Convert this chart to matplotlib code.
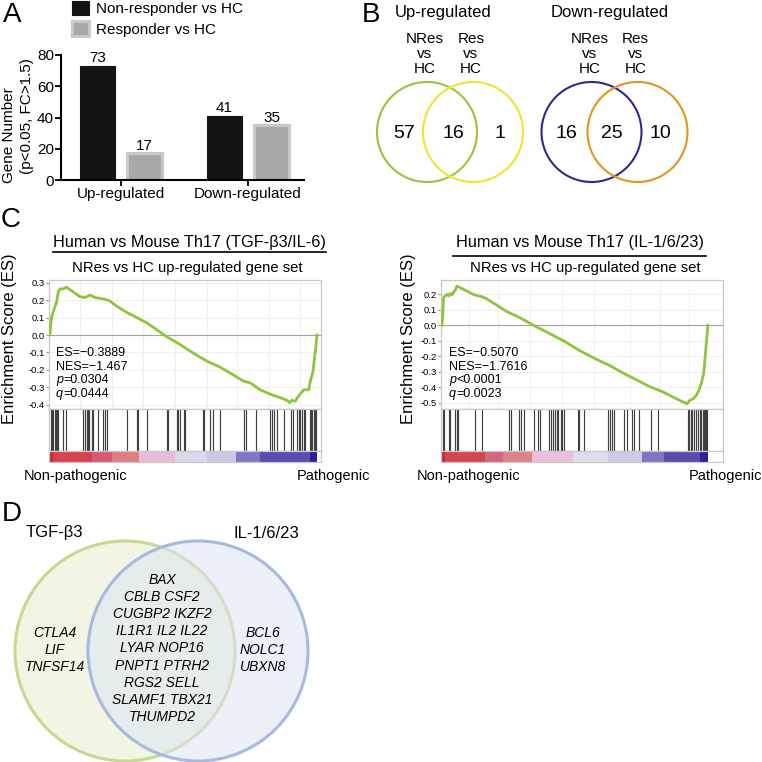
import matplotlib
matplotlib.use('Agg')
import matplotlib.pyplot as plt
from matplotlib.patches import Circle
import numpy as np

plt.rcParams['font.family'] = ['Liberation Sans', 'DejaVu Sans']

# ---------------- data ----------------
# Panel A
groups = ['Up-regulated', 'Down-regulated']
series_labels = ['Non-responder vs HC', 'Responder vs HC']
nonresp_counts = [73, 41]
resp_counts = [17, 35]
a_yticks = [0, 20, 40, 60, 80]

# Panel B (Venn counts: only NRes, both, only Res)
venn_up_counts = [57, 16, 1]
venn_down_counts = [16, 25, 10]
venn_titles = ['Up-regulated', 'Down-regulated']
venn_set_labels = ['NRes\nvs\nHC', 'Res\nvs\nHC']

# Panel C left: TGF-b3/IL-6
c1_rank = [0.0, 0.25, 0.6, 1.25, 1.9, 2.5, 3.1, 3.75, 5.0, 6.25, 7.5, 9.4, 11.25, 13.1, 15.0, 16.9,
           18.75, 20.6, 22.5, 25.0, 28.75, 32.5, 36.25, 40.0, 43.75, 48.75, 53.75, 58.75, 63.75,
           68.75, 72.5, 75.0, 78.75, 82.5, 86.25, 88.75, 89.75, 90.6, 91.9, 93.1, 95.0, 96.9,
           97.5, 98.5, 99.0, 99.6, 100.0]
c1_es = [0.0, 0.06, 0.10, 0.135, 0.165, 0.19, 0.25, 0.265, 0.265, 0.275, 0.26, 0.24, 0.22, 0.215,
         0.23, 0.215, 0.21, 0.205, 0.195, 0.165, 0.13, 0.10, 0.07, 0.03, -0.01, -0.055, -0.105,
         -0.15, -0.185, -0.23, -0.265, -0.275, -0.315, -0.34, -0.36, -0.375, -0.389, -0.375,
         -0.38, -0.35, -0.315, -0.315, -0.265, -0.21, -0.14, -0.065, 0.0]
c1_hits = [0.25, 0.75, 1.25, 1.75, 2.25, 2.75, 3.1, 5.0, 6.0, 12.5, 13.1, 13.75, 14.4, 14.75, 15.6,
           16.25, 17.9, 20.0, 20.6, 21.25, 28.75, 32.5, 33.1, 36.25, 43.75, 44.1, 47.5, 47.9,
           48.75, 50.0, 50.6, 57.25, 57.75, 60.0, 61.0, 63.75, 72.75, 73.4, 77.1, 82.25, 83.1,
           83.75, 85.0, 87.5, 90.25, 90.9, 92.5, 93.1, 93.75, 94.4, 95.0, 95.4, 97.25, 97.75,
           98.25, 98.75, 99.25, 99.75]
c1_bar_edges = [0, 1.0, 15.6, 23.1, 33.5, 46.9, 58.75, 69.75, 78.75, 97.25, 100]
c1_bar_colors = ['#cc2535', '#d6434c', '#d65b70', '#de7d82', '#ebbadb', '#dcd9ef', '#cdc7e6',
                 '#7e76c6', '#5a4db0', '#2c1f9c']
c1_yticks = [0.3, 0.2, 0.1, 0.0, -0.1, -0.2, -0.3, -0.4]
c1_grid = [11.25, 23.1, 35.0, 46.9, 58.75, 70.0, 81.9, 93.75]
c1_stats = [('', 'ES=\u22120.3889'), ('', 'NES=\u22121.467'), ('p', '=0.0304'), ('q', '=0.0444')]
c1_title = 'Human vs Mouse Th17 (TGF-\u03b23/IL-6)'

# Panel C right: IL-1/6/23
c2_rank = [0.0, 0.25, 0.6, 1.25, 1.9, 2.5, 3.1, 3.75, 4.4, 5.0, 5.6, 6.9, 9.4, 11.9, 14.4, 16.25,
           19.4, 24.4, 29.4, 34.4, 39.4, 45.6, 51.9, 58.1, 63.1, 68.1, 73.1, 78.1, 83.1, 88.1,
           92.1, 93.1, 94.4, 95.6, 96.6, 97.5, 98.4, 98.9, 99.4, 99.75, 100.0]
c2_es = [0.0, 0.055, 0.18, 0.19, 0.20, 0.19, 0.205, 0.195, 0.215, 0.227, 0.253, 0.242, 0.22,
         0.198, 0.187, 0.176, 0.143, 0.088, 0.048, 0.0, -0.044, -0.099, -0.165, -0.22, -0.26,
         -0.308, -0.352, -0.396, -0.43, -0.474, -0.507, -0.485, -0.474, -0.452, -0.418, -0.374,
         -0.308, -0.209, -0.11, -0.044, 0.0]
c2_hits = [0.25, 0.6, 2.5, 3.1, 5.0, 5.6, 6.0, 12.5, 15.0, 25.0, 26.0, 29.0, 29.75, 31.0, 34.75,
           36.25, 36.9, 40.25, 41.0, 41.9, 42.5, 43.1, 43.75, 44.75, 45.25, 46.0, 51.0, 51.5,
           53.5, 62.5, 63.1, 63.75, 64.75, 68.5, 69.4, 71.25, 72.25, 74.0, 78.75, 81.25, 92.5,
           93.0, 93.5, 94.0, 94.75, 95.6, 96.25, 96.9, 97.5, 98.0, 98.5, 99.0, 99.4, 99.75]
c2_bar_edges = [0, 1.25, 16.0, 23.1, 34.0, 49.4, 62.5, 75.25, 83.5, 96.9, 100]
c2_bar_colors = ['#cf2232', '#d5474f', '#d66580', '#df8088', '#ecbfe0', '#e0dcf0', '#d0c9e8',
                 '#7d74c4', '#5a4caf', '#30209a']
c2_yticks = [0.2, 0.1, 0.0, -0.1, -0.2, -0.3, -0.4, -0.5]
c2_grid = [10.0, 21.0, 33.0, 45.0, 57.0, 70.6, 81.9, 93.0]
c2_stats = [('', 'ES=\u22120.5070'), ('', 'NES=\u22121.7616'), ('p', '<0.0001'), ('q', '=0.0023')]
c2_title = 'Human vs Mouse Th17 (IL-1/6/23)'
c_subtitle = 'NRes vs HC up-regulated gene set'

# Panel D
d_set_labels = ['TGF-\u03b23', 'IL-1/6/23']
d_only_tgf = ['CTLA4', 'LIF', 'TNFSF14']
d_both = ['BAX', 'CBLB CSF2', 'CUGBP2 IKZF2', 'IL1R1 IL2 IL22', 'LYAR NOP16', 'PNPT1 PTRH2',
          'RGS2 SELL', 'SLAMF1 TBX21', 'THUMPD2']
d_only_il = ['BCL6', 'NOLC1', 'UBXN8']

# ---------------- figure ----------------
W = H = 762
fig = plt.figure(figsize=(7.62, 7.62), dpi=100)
renderer = fig.canvas.get_renderer()


def px_axes(l, t, w, h):
    return fig.add_axes([l / W, 1 - (t + h) / H, w / W, h / H])


def ftext(x, y, s, **kw):
    kw.setdefault('ha', 'center')
    kw.setdefault('va', 'center')
    return fig.text(x / W, 1 - y / H, s, **kw)


# panel letters
for lab, (x, y) in zip('ABCD', [(12, 15), (371, 15), (11, 220), (12, 514)]):
    ftext(x, y, lab, fontsize=20)

# ---------------- Panel A ----------------
axA = px_axes(61, 55, 243, 125)
xg = np.arange(len(groups))
off, bw = 0.185, 0.276
b1 = axA.bar(xg - off, nonresp_counts, bw, color='#141414', edgecolor='#141414', linewidth=0.8,
             label=series_labels[0])
b2 = axA.bar(xg + off, resp_counts, bw, color='#a8a8a8', edgecolor='#c8c8c8', linewidth=2.2,
             label=series_labels[1])
for bars, vals in [(b1, nonresp_counts), (b2, resp_counts)]:
    for r, v in zip(bars, vals):
        axA.annotate(str(v), (r.get_x() + r.get_width() / 2, v), xytext=(0, 0.5),
                     textcoords='offset points', ha='center', va='bottom', fontsize=11)
axA.set_xlim(-0.472, 1.44)
axA.set_ylim(0, 80)
axA.set_yticks(a_yticks)
axA.set_xticks(xg)
axA.set_xticklabels(groups, fontsize=11)
axA.tick_params(axis='y', labelsize=11, length=4, width=1.3, pad=1)
axA.tick_params(axis='x', length=4, width=1.3, pad=1)
for s in ['top', 'right']:
    axA.spines[s].set_visible(False)
for s in ['left', 'bottom']:
    axA.spines[s].set_linewidth(1.5)
ftext(9.5, 135, 'Gene Number', rotation=90, fontsize=11)
ftext(27, 116, '(p<0.05, FC>1.5)', rotation=90, fontsize=11)
fig.legend(handles=[b1, b2], labels=series_labels, loc='upper left',
           bbox_to_anchor=(72 / W, 1 - 0.5 / H), frameon=False, fontsize=11,
           handlelength=1.1, handleheight=1.1, handletextpad=0.5, labelspacing=0.35,
           borderpad=0, borderaxespad=0)

# ---------------- Panel B ----------------
axB = px_axes(360, 0, 402, 200)
axB.set_xlim(360, 762)
axB.set_ylim(200, 0)
axB.axis('off')
venn_centers = [(427, 473), (591.5, 637.5)]
venn_colors = [('#9cc33c', '#f2e32e'), ('#2d2a8e', '#e8921e')]
title_x = [443, 610]
num_x = [(404, 453, 500), (566, 612, 660)]
for i, counts in enumerate([venn_up_counts, venn_down_counts]):
    ftext(title_x[i], 13, venn_titles[i], fontsize=12)
    for cx, col, lab in zip(venn_centers[i], venn_colors[i], venn_set_labels):
        axB.add_patch(Circle((cx, 132), 50, fill=False, edgecolor=col, linewidth=1.5))
        for k, line in enumerate(lab.split('\n')):
            ftext(cx - 2, 39 + 15 * k, line, fontsize=11)
    for x, v in zip(num_x[i], counts):
        ftext(x, 133, str(v), fontsize=14)


def stat_line(x, y, italic, rest, fs):
    xx = x
    if italic:
        t = ftext(xx, y, italic, fontsize=fs, ha='left', style='italic')
        xx += t.get_window_extent(renderer).width
    ftext(xx, y, rest, fontsize=fs, ha='left')


# ---------------- Panel C ----------------
def draw_gsea(box_l, box_r, line_l, line_r, ylim, yticks, grid, rank, es, hits, edges, colors,
              title, title_cx, sub_cx, underline, uline_y, stats, stats_x, ylab_x, np_x, p_x):
    scale = (line_r - line_l) / 100.0
    xlo = -(line_l - box_l) / scale
    xhi = 100 + (box_r - line_r) / scale
    w = box_r - box_l
    ax1 = px_axes(box_l, 280, w, 129)
    ax2 = px_axes(box_l, 409, w, 42)
    ax3 = px_axes(box_l, 451, w, 11)
    for a in (ax1, ax2, ax3):
        a.set_xlim(xlo, xhi)
        for s in a.spines.values():
            s.set_color('#c8c8c8')
            s.set_linewidth(0.9)
    # ES
    ax1.set_ylim(*ylim)
    ax1.set_yticks(yticks)
    ax1.set_yticklabels([f'{v:.1f}' for v in yticks])
    ax1.set_xticks(grid)
    ax1.tick_params(axis='x', length=0, labelbottom=False)
    ax1.tick_params(axis='y', labelsize=6.8, length=2, color='#999999', pad=1)
    ax1.grid(True, color='#ececec', linewidth=0.6)
    ax1.set_axisbelow(True)
    ax1.axhline(0, color='#a0a0a0', linewidth=0.8, zorder=1)
    ax1.plot(rank, es, color='#8cc63f', linewidth=2.0, zorder=3)
    # hits
    ax2.set_ylim(0, 1)
    ax2.vlines(hits, 0, 1, color='#404040', linewidth=0.85)
    ax2.set_xticks([])
    ax2.set_yticks([])
    # colour bar
    for i, c in enumerate(colors):
        ax3.axvspan(edges[i], edges[i + 1], color=c, linewidth=0)
    ax3.set_xticks([])
    ax3.set_yticks([])
    # text
    ftext(title_cx, 243, title, fontsize=11.7)
    fig.add_artist(plt.Line2D([underline[0] / W, underline[1] / W],
                              [1 - uline_y / H, 1 - uline_y / H], color='black', linewidth=1.2))
    ftext(sub_cx, 268, c_subtitle, fontsize=10.7)
    for k, (it, rest) in enumerate(stats):
        stat_line(stats_x, 353 + 13.7 * k, it, rest, 9)
    ftext(ylab_x, 339, 'Enrichment Score (ES)', rotation=90, fontsize=12)
    ftext(np_x, 476, 'Non-pathogenic', fontsize=10.5)
    ftext(p_x, 476, 'Pathogenic', fontsize=10.5)


draw_gsea(49, 321, 50, 317, (-0.425, 0.316), c1_yticks, c1_grid, c1_rank, c1_es, c1_hits,
          c1_bar_edges, c1_bar_colors, c1_title, 189, 187, (53, 326), 252, c1_stats, 56,
          10, 76, 333)
draw_gsea(441, 723, 442, 708, (-0.54, 0.292), c2_yticks, c2_grid, c2_rank, c2_es, c2_hits,
          c2_bar_edges, c2_bar_colors, c2_title, 580, 585, (453, 706), 256, c2_stats, 449,
          408, 469, 725)

# ---------------- Panel D ----------------
axD = px_axes(0, 495, 340, 267)
axD.set_xlim(0, 340)
axD.set_ylim(762, 495)
axD.axis('off')
axD.add_patch(Circle((125, 651), 110, facecolor='#f2f5e3', edgecolor='#c6d98f', linewidth=2.2,
                     zorder=1))
axD.add_patch(Circle((198, 651), 110, facecolor='#dce5f5', edgecolor='none', alpha=0.55,
                     zorder=2))
axD.add_patch(Circle((198, 651), 110, fill=False, edgecolor='#a6b9df', linewidth=2.2, zorder=3))
ftext(54, 533, d_set_labels[0], fontsize=12)
ftext(266, 533, d_set_labels[1], fontsize=12)
for k, g in enumerate(d_both):
    ftext(162, 580 + 17.1 * k, g, fontsize=10, style='italic')
for k, g in enumerate(d_only_tgf):
    ftext(55, 633 + 17 * k, g, fontsize=10, style='italic')
for k, g in enumerate(d_only_il):
    ftext(263, 633 + 17 * k, g, fontsize=10, style='italic')

fig.savefig('out.png', dpi=100)
